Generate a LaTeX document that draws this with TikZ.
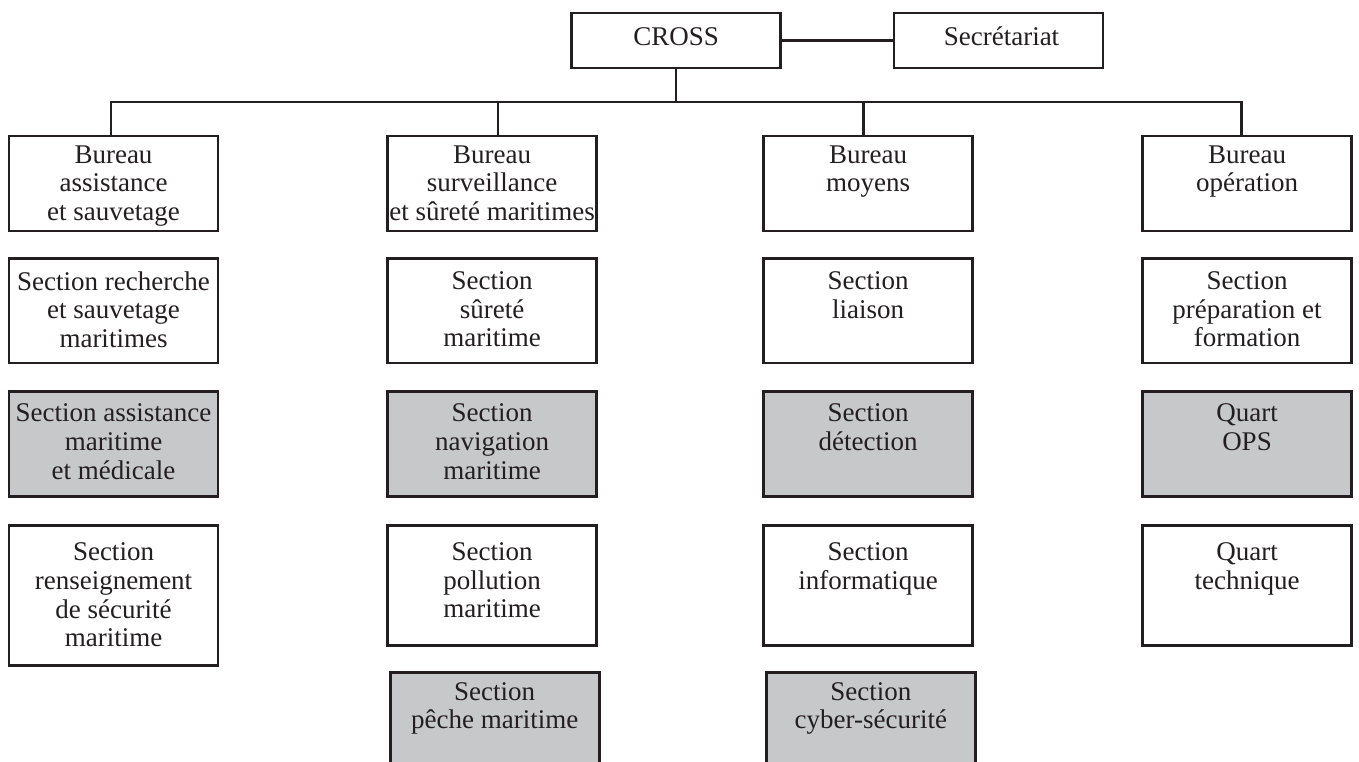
\documentclass[tikz,border=0pt]{standalone}
\usepackage{fontspec}
\setmainfont{Liberation Serif}
\definecolor{ink}{RGB}{35,31,32}
\definecolor{shade}{RGB}{199,200,202}
\tikzset{
  box/.style={draw=ink, line width=2.7pt, minimum width=209pt, inner sep=0pt, outer sep=0pt},
  greybox/.style={box, fill=shade},
  txt/.style={anchor=north, align=center, inner sep=0pt, text=ink, font=\fontsize{27}{28.7}\selectfont},
  wire/.style={draw=ink, line width=2.5pt, line join=miter},
}
\begin{document}
\begin{tikzpicture}[x=1pt, y=-1pt]
\path[use as bounding box, fill=white] (0,0) rectangle (1359,762);

% top
\node[box, minimum height=55pt, label={[txt,yshift=-14pt]90:{CROSS}}] (cross) at (676.2,40.5) {};
\node[box, minimum height=55pt, label={[txt,yshift=-14pt,xshift=3pt]90:{Secrétariat}}] (sec) at (998.5,40.5) {};

% row 1
\node[box, minimum height=95pt, label={[txt,yshift=-9.3pt]90:{Bureau\\assistance\\et sauvetage}}] (b1) at (113.5,183.5) {};
\node[box, minimum height=95pt, label={[txt,yshift=-9.3pt]90:{Bureau\\surveillance\\et sûreté maritimes}}] (b2) at (492.2,183.5) {};
\node[box, minimum height=95pt, label={[txt,yshift=-9.3pt]90:{Bureau\\moyens}}] (b3) at (868,183.5) {};
\node[box, minimum height=95pt, label={[txt,yshift=-9.3pt]90:{Bureau\\opération}}] (b4) at (1247,183.5) {};

% row 2
\node[box, minimum height=104.7pt, label={[txt,yshift=-13pt]90:{Section recherche\\et sauvetage\\maritimes}}] (s21) at (113.5,310.7) {};
\node[box, minimum height=104.7pt, label={[txt,yshift=-13pt]90:{Section\\sûreté\\maritime}}] (s22) at (492.2,310.7) {};
\node[box, minimum height=104.7pt, label={[txt,yshift=-13pt]90:{Section\\liaison}}] (s23) at (868,310.7) {};
\node[box, minimum height=104.7pt, label={[txt,yshift=-13pt]90:{Section\\préparation et\\formation}}] (s24) at (1247,310.7) {};

% row 3
\node[greybox, minimum height=104.6pt, label={[txt,yshift=-12pt]90:{Section assistance\\maritime\\et médicale}}] (s31) at (113.5,444) {};
\node[greybox, minimum height=104.6pt, label={[txt,yshift=-12pt]90:{Section\\navigation\\maritime}}] (s32) at (492.2,444) {};
\node[greybox, minimum height=104.6pt, label={[txt,yshift=-12pt]90:{Section\\détection}}] (s33) at (868,444) {};
\node[greybox, minimum height=104.6pt, label={[txt,yshift=-12pt]90:{Quart\\OPS}}] (s34) at (1247,444) {};

% row 4
\node[box, minimum height=140.4pt, label={[txt,yshift=-17.5pt]90:{Section\\renseignement\\de sécurité\\maritime}}] (s41) at (113.5,595.5) {};
\node[box, minimum height=120.4pt, label={[txt,yshift=-17pt]90:{Section\\pollution\\maritime}}] (s42) at (492.2,585.5) {};
\node[box, minimum height=120.4pt, label={[txt,yshift=-17pt]90:{Section\\informatique}}] (s43) at (868,585.5) {};
\node[box, minimum height=120.4pt, label={[txt,yshift=-17pt]90:{Quart\\technique}}] (s44) at (1247,585.5) {};

% row 5 (cut by the page edge)
\node[greybox, minimum height=107.3pt, label={[txt,yshift=-9.3pt]90:{Section\\pêche maritime}}] (s52) at (494.7,726.35) {};
\node[greybox, minimum height=107.3pt, label={[txt,yshift=-9.3pt]90:{Section\\cyber-sécurité}}] (s53) at (870.8,726.35) {};

% connectors
\coordinate (j1) at (111,102);
\coordinate (j2) at (498,102);
\coordinate (j3) at (863.3,102);
\coordinate (j4) at (1241.7,102);
\draw[wire] (cross.east) -- (sec.west);
\draw[wire] (cross.south) -- (cross.south |- j1);
\draw[wire] (j1 |- b1.north) -- (j1) -- (j4) -- (j4 |- b4.north);
\draw[wire] (j2) -- (j2 |- b2.north);
\draw[wire] (j3) -- (j3 |- b3.north);
\end{tikzpicture}
\end{document}
